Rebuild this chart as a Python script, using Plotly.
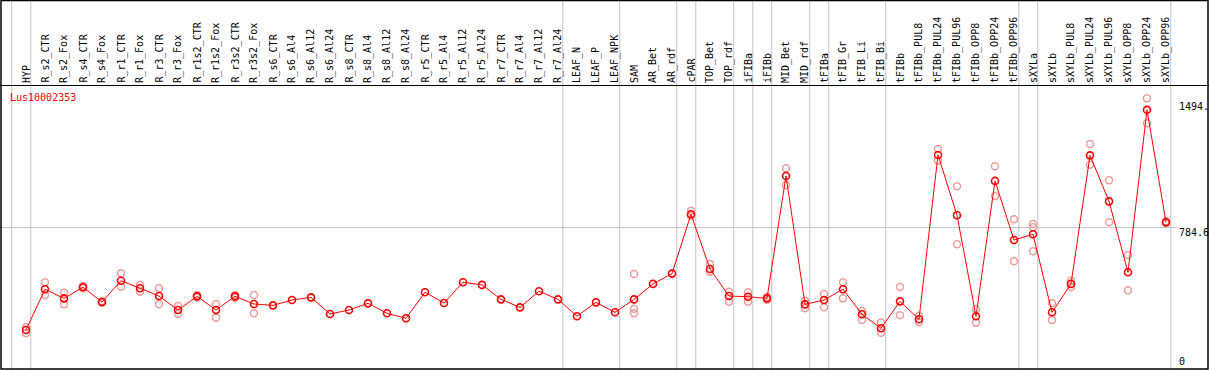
import plotly.graph_objects as go

categories = ["HYP", "R_s2_CTR", "R_s2_Fox", "R_s4_CTR", "R_s4_Fox", "R_r1_CTR", "R_r1_Fox",
              "R_r3_CTR", "R_r3_Fox", "R_r1s2_CTR", "R_r1s2_Fox", "R_r3s2_CTR", "R_r3s2_Fox",
              "R_s6_CTR", "R_s6_Al4", "R_s6_Al12", "R_s6_Al24", "R_s8_CTR", "R_s8_Al4",
              "R_s8_Al12", "R_s8_Al24", "R_r5_CTR", "R_r5_Al4", "R_r5_Al12", "R_r5_Al24",
              "R_r7_CTR", "R_r7_Al4", "R_r7_Al12", "R_r7_Al24", "LEAF_N", "LEAF_P", "LEAF_NPK",
              "SAM", "AR_Bet", "AR_rdf", "cPAR", "TOP_Bet", "TOP_rdf", "iFIBa", "iFIBb",
              "MID_Bet", "MID_rdf", "tFIBa", "tFIB_Gr", "tFIB_Li", "tFIB_Bi", "tFIBb",
              "tFIBb_PUL8", "tFIBb_PUL24", "tFIBb_PUL96", "tFIBb_OPP8", "tFIBb_OPP24",
              "tFIBb_OPP96", "sXYLa", "sXYLb", "sXYLb_PUL8", "sXYLb_PUL24", "sXYLb_PUL96",
              "sXYLb_OPP8", "sXYLb_OPP24", "sXYLb_OPP96"]

mean_values = [169, 414, 359, 426, 337, 465, 420, 373, 289, 371, 289, 371, 325,
               317, 349, 365, 265, 289, 329, 269, 239, 396, 331, 456, 440,
               353, 305, 402, 353, 251, 335, 275,
               353, 446, 508, 865, 536, 373, 369, 359,
               1096, 323, 349, 414, 263, 179, 341,
               233, 1222, 859, 251, 1066, 710,
               745, 275, 446, 1220, 943, 516, 1494, 817]

rep_a = [185, 456, 393, 433, 341, 510, 440, 420, 313, 379, 325, 379, 379,
         None, None, None, None, None, None, None, None, None, None, None, None,
         None, None, None, None, None, None, None,
         506, None, None, 887, 566, 399, 396, 369,
         1142, 345, 385, 456, 283, 213, 427,
         255, 1258, 1034, 295, 1154, 835,
         807, 329, 465, 1288, 1070, 620, 1563, 823]

rep_b = [149, 379, 323, 420, 333, 429, 399, 323, 265, 365, 243, 363, 269,
         None, None, None, None, None, None, None, None, None, None, None, None,
         None, None, None, None, None, None, None,
         297, None, None, 857, 520, 339, 339, 349,
         1042, 299, 305, 359, 229, 152, 257,
         215, 1188, 685, 213, 975, 582,
         787, 229, 427, 1164, 817, 408, 1413, 811]

rep_c = [None] * 32 + [269] + [None] * 20 + [642] + [None] * 7

group_ends = [-1, 0, 28, 31, 34, 35, 37, 38, 39, 41, 42, 45, 52, 53, 60]

gene_name = "Lus10002353"
ytick_values = [1494, 784.6, 0]
ytick_labels = ["1494.", "784.6", "0"]

W, H = 1209, 370
X0_PX, DX_PX = 26.0, 19.0          # pixel of first category, spacing
Y0_PX, VPP = 358.0, 6.02            # pixel of value 0, value per pixel


def xp(px):
    return px / W


def yp(py):
    return 1 - py / H


x_range = [(0 - X0_PX) / DX_PX, (W - X0_PX) / DX_PX]
y_range = [(Y0_PX - H) * VPP, Y0_PX * VPP]

idx = list(range(len(categories)))
RED = "#FF0000"
PINK = "#EE9C9C"
GRAY = "#C4C4C4"
FONT = "DejaVu Sans Mono"

fig = go.Figure()

rx, ry = [], []
for reps in (rep_a, rep_b, rep_c):
    for i, v in enumerate(reps):
        if v is not None:
            rx.append(i)
            ry.append(v)

fig.add_trace(go.Scatter(x=rx, y=ry, mode="markers", hoverinfo="skip",
                         marker=dict(symbol="circle-open", size=7, color=PINK,
                                     line=dict(color=PINK, width=1.5))))
fig.add_trace(go.Scatter(x=idx, y=mean_values, mode="lines+markers",
                         line=dict(color=RED, width=1),
                         marker=dict(symbol="circle-open", size=7, color=RED,
                                     line=dict(color=RED, width=1.6))))

shapes = []
# group separators
for g in group_ends:
    shapes.append(dict(type="line", xref="x", yref="paper", x0=g + 0.25, x1=g + 0.25,
                       y0=0, y1=1, line=dict(color=GRAY, width=1), layer="below"))
# horizontal grid at middle tick
shapes.append(dict(type="line", xref="paper", yref="y", x0=0, x1=xp(1177),
                   y0=ytick_values[1], y1=ytick_values[1],
                   line=dict(color=GRAY, width=1), layer="below"))
# header separator and frame
shapes.append(dict(type="line", xref="paper", yref="paper", x0=0, x1=1,
                   y0=yp(85.5), y1=yp(85.5), line=dict(color="black", width=1.2)))
shapes.append(dict(type="rect", xref="paper", yref="paper", x0=xp(1), x1=xp(1208),
                   y0=yp(369), y1=yp(0.5), line=dict(color="black", width=1.5)))

annotations = []
for i, c in enumerate(categories):
    annotations.append(dict(x=i, y=yp(84), xref="x", yref="paper", text=c,
                            textangle=-90, showarrow=False, xanchor="center",
                            yanchor="bottom", borderpad=0,
                            font=dict(family=FONT, size=10, color="black")))
annotations.append(dict(x=xp(9), y=yp(97.5), xref="paper", yref="paper", text=gene_name,
                        showarrow=False, xanchor="left", yanchor="middle", borderpad=0,
                        font=dict(family=FONT, size=10, color=RED)))
label_centers = [107, 232, 361.5]
for lab, cy in zip(ytick_labels, label_centers):
    annotations.append(dict(x=xp(1177.5), y=yp(cy), xref="paper", yref="paper", text=lab,
                            showarrow=False, xanchor="left", yanchor="middle", borderpad=0,
                            font=dict(family=FONT, size=10, color="black")))

fig.update_layout(
    width=W, height=H, autosize=False,
    margin=dict(l=0, r=0, t=0, b=0, pad=0),
    paper_bgcolor="white", plot_bgcolor="white",
    showlegend=False,
    xaxis=dict(range=x_range, visible=False, showgrid=False, zeroline=False, fixedrange=True),
    yaxis=dict(range=y_range, visible=False, showgrid=False, zeroline=False, fixedrange=True),
    shapes=shapes, annotations=annotations,
)

fig.write_html("out.html", config={"displayModeBar": False},
               post_script="document.body.style.margin='0';document.body.style.overflow='hidden';")
